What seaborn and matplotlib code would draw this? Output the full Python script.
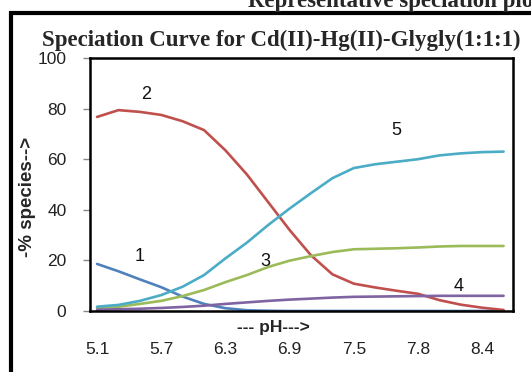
import numpy as np
import pandas as pd
import matplotlib
matplotlib.use("Agg")
import matplotlib.pyplot as plt
import seaborn as sns
from matplotlib.patches import Rectangle

# pH tick labels (shown every third point)
PH_LABELS = ['5.1', '5.7', '6.3', '6.9', '7.5', '7.8', '8.4']
SPECIES = ['1', '2', '3', '4', '5']

# % species, 20 points each
s1 = [18.6, 15.7, 12.5, 9.4, 5.7, 2.8, 1.1, 0.3, 0.1, 0, 0, 0, 0, 0, 0, 0, 0, 0, 0, 0]
s2 = [76.7, 79.4, 78.7, 77.5, 75.0, 71.5, 63.5, 54.0, 43.0, 32.0, 22.0, 14.5,
      10.8, 9.3, 8.0, 6.8, 4.3, 2.5, 1.3, 0.4]
s3 = [1.2, 1.7, 2.8, 4.0, 5.9, 8.3, 11.4, 14.2, 17.4, 19.9, 21.7, 23.3,
      24.4, 24.6, 24.8, 25.1, 25.5, 25.7, 25.7, 25.7]
s4 = [0.5, 0.7, 0.9, 1.2, 1.6, 2.1, 2.8, 3.4, 4.0, 4.5, 4.9, 5.3,
      5.6, 5.7, 5.8, 5.9, 6.0, 6.0, 6.0, 6.0]
s5 = [1.7, 2.4, 4.0, 6.3, 9.6, 14.2, 20.8, 27.0, 34.0, 40.5, 46.6, 52.5,
      56.5, 58.0, 59.0, 60.0, 61.5, 62.3, 62.8, 63.0]

COLORS = ['#4F81BD', '#C0504D', '#9BBB59', '#8064A2', '#4BACC6']

# curve number labels: (x index, % value)
NUM_POS = [(2.0, 21.5), (2.3, 85.5), (7.85, 19.5), (16.9, 9.5), (14.0, 71.5)]

rows = []
for name, vals in zip(SPECIES, [s1, s2, s3, s4, s5]):
    for i, v in enumerate(vals):
        rows.append({'idx': i, 'pct': v, 'species': name})
df = pd.DataFrame(rows)

sns.set_style('white')
plt.rcParams['font.family'] = ['Liberation Sans', 'DejaVu Sans']

W, H = 531, 372
fig = plt.figure(figsize=(W / 100, H / 100), dpi=100)
ax = fig.add_axes([90 / W, (H - 311) / H, 423 / W, 253 / H])

sns.lineplot(data=df, x='idx', y='pct', hue='species',
             palette=dict(zip(SPECIES, COLORS)),
             linewidth=1.9, legend=False, ax=ax)

ax.set_xlim(-0.33, 19.44)
ax.set_ylim(0, 100)
ax.set_yticks(np.arange(0, 101, 20))
ax.set_xticks(np.arange(0, 19, 3))
ax.set_xticklabels(PH_LABELS)
ax.tick_params(axis='x', length=0, pad=22, labelsize=12.5, colors='#222222')
ax.tick_params(axis='y', length=5, width=1, color='#888888', direction='out',
               pad=12, labelsize=12.5, labelcolor='#222222', left=True)
ax.set_xlabel('')
ax.set_ylabel('')
for sp in ax.spines.values():
    sp.set_color('black')
    sp.set_linewidth(1.8)
    sp.set_visible(True)

for (x, y), lab in zip(NUM_POS, SPECIES):
    ax.text(x, y, lab, fontsize=13, ha='center', va='center', color='#111111')

ax.text(0.433, -0.067, '--- pH--->', transform=ax.transAxes,
        ha='center', va='center', fontsize=12.5, fontweight='bold')
fig.text(27 / W, 1 - 197 / H, '-% species-->', rotation=90,
         ha='center', va='center', fontsize=13.5, fontweight='bold')

fig.text(281 / W, 1 - 40 / H, 'Speciation Curve for Cd(II)-Hg(II)-Glygly(1:1:1)',
         ha='center', va='center', fontsize=16.5, fontweight='bold',
         family='Liberation Serif')
fig.text(248 / W, 1 - 7 / H, 'Representative speciation plots',
         ha='left', va='baseline', fontsize=16.5, fontweight='bold',
         family='Liberation Serif')

fig.add_artist(Rectangle((10.5 / W, -0.1), 1.2, 1 - 12.5 / H + 0.1,
                         transform=fig.transFigure, fill=False,
                         edgecolor='black', linewidth=3))

fig.savefig('out.png', dpi=100)
